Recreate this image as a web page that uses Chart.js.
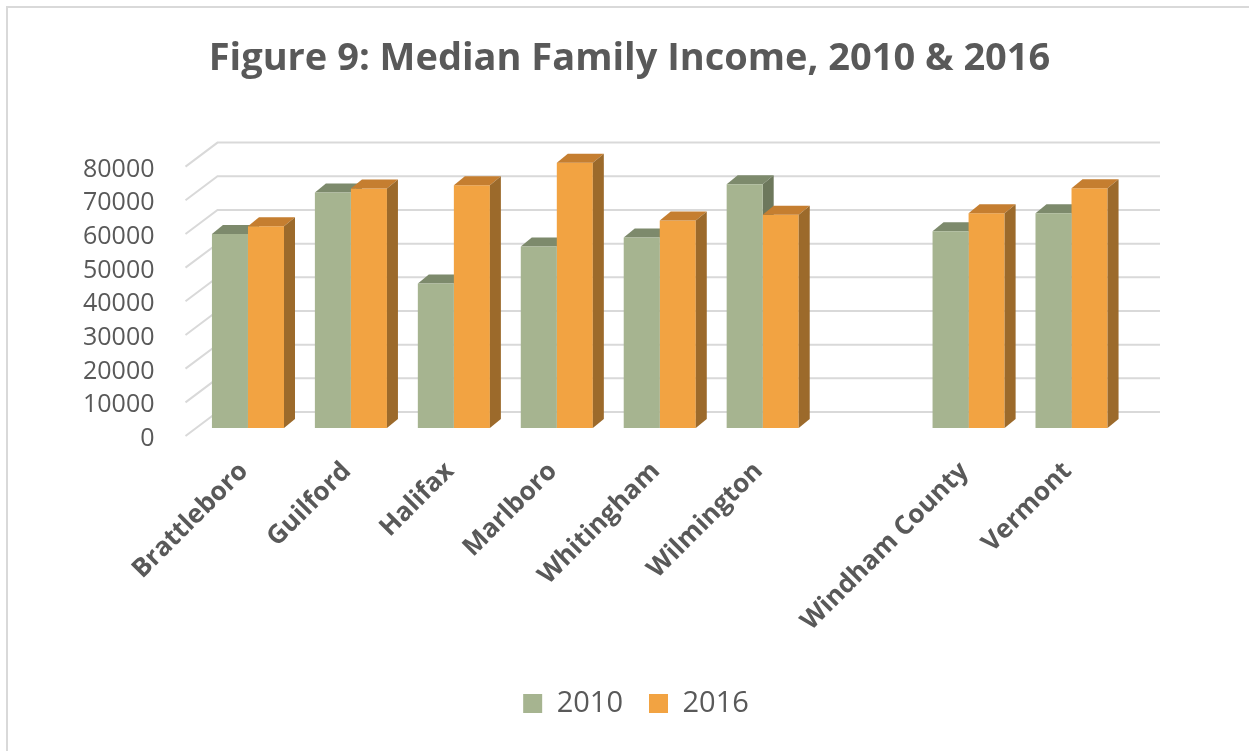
<!DOCTYPE html>
<html>
<head>
<meta charset="utf-8">
<title>Median Family Income, 2010 & 2016</title>
<script src="https://cdn.jsdelivr.net/npm/chart.js@4.4.1/dist/chart.umd.min.js"></script>
<style>
  html, body { margin: 0; padding: 0; background: #fff; }
  #wrap { position: relative; width: 1249px; height: 751px; overflow: hidden; }
  #frame { position: absolute; left: 6px; top: 6px; right: -4px; bottom: -4px;
           border-top: 2px solid #d9d9d9; border-left: 2px solid #d9d9d9; }
  canvas { position: absolute; left: 0; top: 0; }
</style>
</head>
<body>
<div id="wrap">
  <div id="frame"></div>
  <canvas id="incomeChart" width="1249" height="751"></canvas>
</div>
<script>
// data (blank category is the gap before the county / state bars)
const towns = ['Brattleboro', 'Guilford', 'Halifax', 'Marlboro', 'Whitingham', 'Wilmington', '', 'Windham County', 'Vermont'];
const income2010 = [57600, 69900, 42900, 53900, 56600, 72400, null, 58400, 63800];
const income2016 = [59900, 71100, 72100, 78800, 61600, 63300, null, 63800, 71200];
const yTicks = [0, 10000, 20000, 30000, 40000, 50000, 60000, 70000, 80000];

const textColor = '#595959';
const gridColor = '#d9d9d9';

// colours for the fake 3d faces
const faces = [
    { front: '#a6b490', top: '#7d8a6c', side: '#6d785c' },
    { front: '#f2a342', top: '#c57e30', side: '#9c6a2b' }
];

// offsets from the bar plane: bar depth, back wall, front edge of side wall
const barDepth = [11, -9];
const wallDepth = [21, -16];
const frontEdge = [-11, 8];

function fillPoly(ctx, pts) {
    ctx.beginPath();
    ctx.moveTo(pts[0][0], pts[0][1]);
    for (let i = 1; i < pts.length; i++) ctx.lineTo(pts[i][0], pts[i][1]);
    ctx.closePath();
    ctx.fill();
}

function drawBarFaces(chart, index) {
    const ctx = chart.ctx;
    const values = chart.data.datasets[index].data;
    const meta = chart.getDatasetMeta(index);
    const [dx, dy] = barDepth;
    ctx.save();
    meta.data.forEach((bar, i) => {
        if (values[i] == null) return;
        const { x, y, base, width } = bar.getProps(['x', 'y', 'base', 'width'], true);
        const l = x - width / 2;
        const r = x + width / 2;
        ctx.fillStyle = faces[index].top;
        fillPoly(ctx, [[l, y], [r, y], [r + dx, y + dy], [l + dx, y + dy]]);
        ctx.fillStyle = faces[index].side;
        fillPoly(ctx, [[r, y], [r + dx, y + dy], [r + dx, base + dy], [r, base]]);
    });
    ctx.restore();
}

const wallPlugin = {
    id: 'wall3d',
    afterLayout(chart) {
        // title and legend are centred on the whole frame, not on the padded area
        chart.titleBlock.left = 10;
        chart.titleBlock.right = chart.width;
        chart.legend.left = 23;
        chart.legend.right = chart.width;
    },
    beforeDatasetsDraw(chart) {
        const { ctx, chartArea } = chart;
        const yScale = chart.scales.y;
        ctx.save();
        ctx.strokeStyle = gridColor;
        ctx.lineWidth = 2;
        yScale.ticks.forEach(t => {
            const py = yScale.getPixelForValue(t.value);
            ctx.beginPath();
            ctx.moveTo(chartArea.left + frontEdge[0], py + frontEdge[1]);
            ctx.lineTo(chartArea.left + wallDepth[0], py + wallDepth[1]);
            ctx.lineTo(chartArea.right + wallDepth[0] + 16, py + wallDepth[1]);
            ctx.stroke();
        });
        ctx.restore();
        // 2010 bars sit behind the 2016 front faces
        drawBarFaces(chart, 0);
    },
    afterDatasetsDraw(chart) {
        drawBarFaces(chart, 1);
    }
};

function makeChart() {
    const ctx = document.getElementById('incomeChart').getContext('2d');
    new Chart(ctx, {
        type: 'bar',
        data: {
            labels: towns,
            datasets: [
                { label: '2010', data: income2010, backgroundColor: faces[0].front, borderWidth: 0 },
                { label: '2016', data: income2016, backgroundColor: faces[1].front, borderWidth: 0 }
            ]
        },
        options: {
            responsive: false,
            animation: false,
            layout: { padding: { left: 40, right: 126, top: 0, bottom: 23 } },
            datasets: { bar: { categoryPercentage: 0.7, barPercentage: 1.0 } },
            plugins: {
                title: {
                    display: true,
                    text: 'Figure 9: Median Family Income, 2010 & 2016',
                    color: textColor,
                    font: { family: 'Open Sans', size: 38, weight: 'bold' },
                    padding: { top: 36, bottom: 77 }
                },
                legend: {
                    position: 'bottom',
                    labels: {
                        color: textColor,
                        boxWidth: 19,
                        boxHeight: 19,
                        padding: 26,
                        font: { family: 'Open Sans', size: 29 }
                    }
                },
                tooltip: { enabled: false }
            },
            scales: {
                x: {
                    grid: { display: false, drawTicks: false },
                    border: { display: false },
                    ticks: {
                        color: textColor,
                        font: { family: 'Open Sans', size: 26, weight: 'bold' },
                        minRotation: 45,
                        maxRotation: 45,
                        autoSkip: false,
                        labelOffset: -4,
                        padding: 28
                    },
                    afterFit(scale) { scale.height = 235; }
                },
                y: {
                    min: 0,
                    max: 80000,
                    grid: { display: false, drawTicks: false },
                    border: { display: false },
                    afterBuildTicks(scale) { scale.ticks = yTicks.map(v => ({ value: v })); },
                    ticks: {
                        color: textColor,
                        font: { family: 'Open Sans', size: 25 },
                        padding: 42,
                        labelOffset: 11,
                        callback: v => String(v)
                    },
                    afterFit(scale) { scale.width = 156.5; }
                }
            }
        },
        plugins: [wallPlugin]
    });
}

Promise.all([
    document.fonts.load('bold 38px "Open Sans"'),
    document.fonts.load('25px "Open Sans"')
]).then(makeChart, makeChart);
</script>
</body>
</html>
